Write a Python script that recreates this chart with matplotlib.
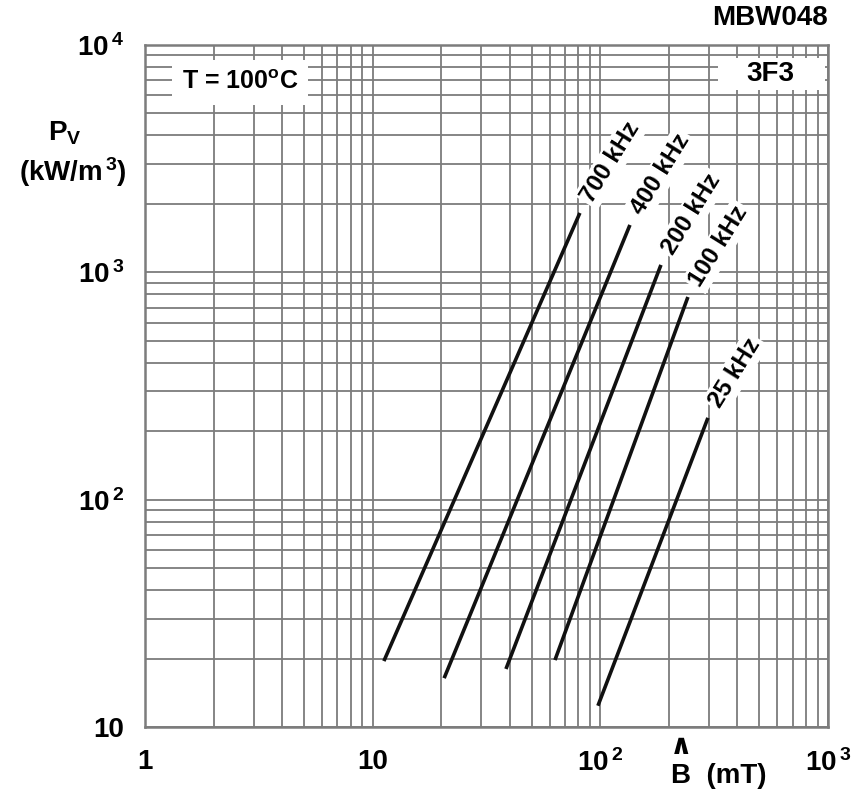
import matplotlib
matplotlib.use("Agg")
import matplotlib.pyplot as plt
from matplotlib.patches import Rectangle

plt.rcParams['font.family'] = ['Liberation Sans', 'DejaVu Sans']
plt.rcParams['font.weight'] = 'bold'
plt.rcParams['mathtext.fontset'] = 'custom'
plt.rcParams['mathtext.rm'] = 'Liberation Sans:bold'
plt.rcParams['mathtext.bf'] = 'Liberation Sans:bold'
plt.rcParams['mathtext.it'] = 'Liberation Sans:bold'

# power loss lines (start and end points)
freqs = ["700 kHz", "400 kHz", "200 kHz", "100 kHz", "25 kHz"]
b_start = [11.2, 20.6, 38.5, 63.2, 97.6]      # mT
p_start = [19.5, 16.4, 18.0, 19.7, 12.4]      # kW/m3
b_end = [81.3, 134.9, 184.6, 242.5, 296.9]
p_end = [1825, 1616, 1078, 779, 229]

x_ticks = [1, 10, 100, 1000]
x_labels = ["1", "10", r"$10^{\,2}$", r"$10^{\,3}$"]
y_ticks = [10, 100, 1000, 10000]
y_labels = ["10", r"$10^{\,2}$", r"$10^{\,3}$", r"$10^{\,4}$"]

grid_col = "#7c7c7c"
fs = 20

fig = plt.figure(figsize=(8.68, 7.92), dpi=100)
ax = fig.add_axes([145 / 868, 1 - 727 / 792, 683 / 868, 682 / 792])
ax.set_xscale('log')
ax.set_yscale('log')
ax.set_xlim(1, 1000)
ax.set_ylim(10, 10000)

ax.set_axisbelow(True)
ax.grid(True, which='both', color=grid_col, linewidth=1.3)
for s in ax.spines.values():
    s.set_color(grid_col)
    s.set_linewidth(1.8)

ax.set_xticks(x_ticks)
ax.set_xticklabels(x_labels, fontsize=fs, fontweight='bold')
ax.set_yticks(y_ticks)
ax.set_yticklabels(y_labels, fontsize=fs, fontweight='bold')
ax.tick_params(which='both', length=0)
ax.tick_params(axis='x', pad=16)
ax.tick_params(axis='y', pad=15)

# the loss curves with their labels
for name, b0, p0, b1, p1 in zip(freqs, b_start, p_start, b_end, p_end):
    ax.plot([b0, b1], [p0, p1], color='#111111', linewidth=2.6,
            solid_capstyle='butt', zorder=3)
    ax.annotate(name, xy=(b1, p1), xytext=(5, 9), textcoords='offset points',
                rotation=58, rotation_mode='anchor', ha='left', va='center',
                fontsize=17.5, fontweight='bold', zorder=4,
                bbox=dict(facecolor='white', edgecolor='none', pad=2))

# boxes in the top corners
ax.add_patch(Rectangle((0.040, 0.912), 0.199, 0.066, transform=ax.transAxes,
                       facecolor='white', edgecolor='none', zorder=2))
ax.text(0.139, 0.946, r"T = 100$^{\mathbf{o}}$C", transform=ax.transAxes,
        ha='center', va='center', fontsize=18, fontweight='bold', zorder=4)
ax.add_patch(Rectangle((0.839, 0.934), 0.157, 0.047, transform=ax.transAxes,
                       facecolor='white', edgecolor='none', zorder=2))
ax.text(0.915, 0.957, "3F3", transform=ax.transAxes,
        ha='center', va='center', fontsize=fs, fontweight='bold', zorder=4)

# axis titles
fig.text(828 / 868, 1 - 18 / 792, "MBW048", ha='right', va='center',
         fontsize=fs, fontweight='bold')
fig.text(65 / 868, 1 - 133 / 792, r"P$_{\mathbf{V}}$", ha='center', va='center',
         fontsize=fs, fontweight='bold')
fig.text(73 / 868, 1 - 172 / 792, r"(kW/m$^{\,\mathbf{3}}$)", ha='center', va='center',
         fontsize=fs, fontweight='bold')
fig.text(671 / 868, 1 - 776 / 792, "B  (mT)", ha='left', va='center',
         fontsize=fs, fontweight='bold')
fig.text(681 / 868, 1 - 746 / 792, "\u2227", ha='center', va='center',
         fontsize=20, fontweight='bold', family='DejaVu Sans')

fig.savefig("out.png", dpi=100, facecolor='white')
